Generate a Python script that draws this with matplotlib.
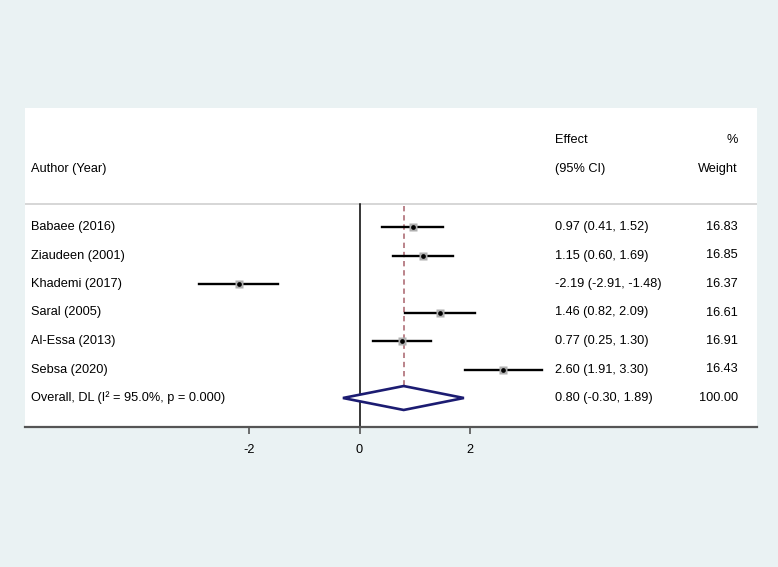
import matplotlib
matplotlib.use("Agg")
import matplotlib.pyplot as plt
from matplotlib.patches import Polygon
import matplotlib.transforms as mtrans

plt.rcParams['font.family'] = ['Liberation Sans', 'DejaVu Sans']

studies = ["Babaee (2016)", "Ziaudeen (2001)", "Khademi (2017)", "Saral (2005)",
           "Al-Essa (2013)", "Sebsa (2020)"]
effects = [0.97, 1.15, -2.19, 1.46, 0.77, 2.60]
lower = [0.41, 0.60, -2.91, 0.82, 0.25, 1.91]
upper = [1.52, 1.69, -1.48, 2.09, 1.30, 3.30]
weights = [16.83, 16.85, 16.37, 16.61, 16.91, 16.43]
overall_label = "Overall, DL (I\u00b2 = 95.0%, p = 0.000)"
overall_eff, overall_lo, overall_hi, overall_w = 0.80, -0.30, 1.89, 100.00
xticks = [-2, 0, 2]

BG = "#EAF2F3"
fig = plt.figure(figsize=(7.78, 5.67), dpi=100, facecolor=BG)
W, H = 778, 567
px0, px1, py0, py1 = 25, 757, 108, 427
ax = fig.add_axes([px0 / W, 1 - py1 / H, (px1 - px0) / W, (py1 - py0) / H])
ax.set_facecolor("white")

# x scale: 0 at px 359.5, 55.25 px per unit
x0px, upx = 359.5, 55.25
ax.set_xlim((px0 - x0px) / upx, (px1 - x0px) / upx)
# y scale: row i at px 227 + 28.5*i
r0, rs = 227, 28.5
ax.set_ylim((py1 - r0) / rs, (py0 - r0) / rs)

n = len(studies)
ov = n
sep_y = (203.5 - r0) / rs
hdr1 = (140 - r0) / rs
hdr2 = (169 - r0) / rs

# separator
ax.axhline(sep_y, color="#CFCFCF", lw=1.2, zorder=1)
# zero line
ax.plot([0, 0], [sep_y, ax.get_ylim()[0]], color="black", lw=1.1, zorder=2)
# overall dashed line
ax.plot([overall_eff, overall_eff], [sep_y + 0.1, ov - 0.42], color="#A8626B",
        lw=1.1, ls=(0, (3.5, 2.5)), zorder=2)

for i in range(n):
    ax.plot([lower[i], upper[i]], [i, i], color="black", lw=1.7, zorder=3)
    ax.plot(effects[i], i, marker="s", ms=5.5 * (weights[i] / 16.6) ** 0.5,
            color="#AFAFAF", mec="none", zorder=4)
    ax.plot(effects[i], i, marker="o", ms=3.4, color="black", mec="none", zorder=5)

dia = Polygon([[overall_lo, ov], [overall_eff, ov - 0.42], [overall_hi, ov],
               [overall_eff, ov + 0.42]], closed=True, facecolor="white",
              edgecolor="#1C1C72", lw=1.9, zorder=6)
ax.add_patch(dia)

# text columns in axes-x fraction
def fx(p):
    return (p - px0) / (px1 - px0)

tr = mtrans.blended_transform_factory(ax.transAxes, ax.transData)
fs = 9.2
ax.text(fx(31), hdr2, "Author (Year)", transform=tr, fontsize=fs, va="center", ha="left")
ax.text(fx(555), hdr1, "Effect", transform=tr, fontsize=fs, va="center", ha="left")
ax.text(fx(555), hdr2, "(95% CI)", transform=tr, fontsize=fs, va="center", ha="left")
ax.text(fx(738), hdr1, "%", transform=tr, fontsize=fs, va="center", ha="right")
ax.text(fx(738), hdr2, "Weight", transform=tr, fontsize=fs, va="center", ha="right")

for i in range(n):
    ax.text(fx(31), i, studies[i], transform=tr, fontsize=fs, va="center", ha="left")
    ax.text(fx(555), i, f"{effects[i]:.2f} ({lower[i]:.2f}, {upper[i]:.2f})",
            transform=tr, fontsize=fs, va="center", ha="left")
    ax.text(fx(738), i, f"{weights[i]:.2f}", transform=tr, fontsize=fs,
            va="center", ha="right")
ax.text(fx(31), ov, overall_label, transform=tr, fontsize=fs, va="center", ha="left")
ax.text(fx(555), ov, f"{overall_eff:.2f} ({overall_lo:.2f}, {overall_hi:.2f})",
        transform=tr, fontsize=fs, va="center", ha="left")
ax.text(fx(738), ov, f"{overall_w:.2f}", transform=tr, fontsize=fs,
        va="center", ha="right")

for s in ["top", "left", "right"]:
    ax.spines[s].set_visible(False)
ax.spines["bottom"].set_color("#555555")
ax.spines["bottom"].set_linewidth(1.6)
ax.set_yticks([])
ax.set_xticks(xticks)
ax.set_xticklabels([str(t) for t in xticks])
ax.tick_params(axis="x", length=5, width=1.2, color="#555555", labelsize=fs, pad=7)

fig.savefig("out.png", dpi=100, facecolor=BG)
